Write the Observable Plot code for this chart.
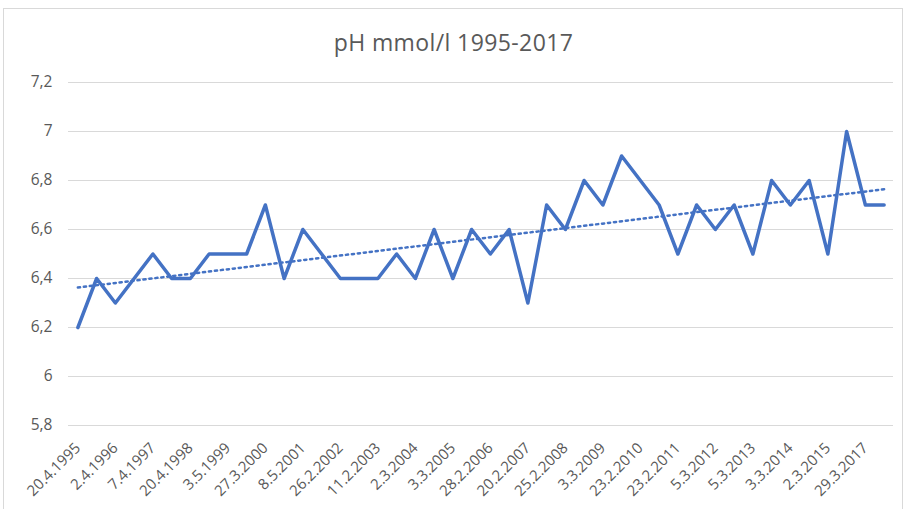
<!DOCTYPE html>
<html>
<head>
<meta charset="utf-8">
<script src="https://cdn.jsdelivr.net/npm/d3@7"></script>
<script src="https://cdn.jsdelivr.net/npm/@observablehq/plot@0.6"></script>
<style>
  html, body { margin: 0; padding: 0; background: #fff; }
  #wrap { position: relative; width: 907px; height: 509px; overflow: hidden; font-family: "Open Sans", sans-serif; }
  #frame { position: absolute; left: 3px; top: 8px; width: 900px; height: 520px; border: 1px solid #d9d9d9; box-sizing: border-box; }
  #title { position: absolute; left: 0; width: 907px; top: 31px; line-height: 23px; text-align: center; font-size: 23px; letter-spacing: 0.4px; color: #595959; font-family: "Open Sans", sans-serif; }
  #chart { position: absolute; left: 0; top: 0; }
</style>
</head>
<body>
<div id="wrap">
  <div id="frame"></div>
  <div id="chart"></div>
  <div id="title">pH mmol/l 1995-2017</div>
</div>
<script>
// Category labels (every other category is labelled on the axis)
const labels = ["20.4.1995","2.4.1996","7.4.1997","20.4.1998","3.5.1999","27.3.2000","8.5.2001","26.2.2002","11.2.2003","2.3.2004","3.3.2005","28.2.2006","20.2.2007","25.2.2008","3.3.2009","23.2.2010","23.2.2011","5.3.2012","5.3.2013","3.3.2014","2.3.2015","29.3.2017"];
// pH values, one per category (44 samples)
const values = [6.2,6.4,6.3,6.4,6.5,6.4,6.4,6.5,6.5,6.5,6.7,6.4,6.6,6.5,6.4,6.4,6.4,6.5,6.4,6.6,6.4,6.6,
                6.5,6.6,6.3,6.7,6.6,6.8,6.7,6.9,6.8,6.7,6.5,6.7,6.6,6.7,6.5,6.8,6.7,6.8,6.5,7.0,6.7,6.7];
const yTicks = [5.8,6.0,6.2,6.4,6.6,6.8,7.0,7.2];

const data = values.map((v, i) => ({i, v}));
const xTicks = labels.map((d, k) => 2 * k);
const fmtY = d => String(+d.toFixed(1)).replace(".", ",");

const plot = Plot.plot({
  width: 907,
  height: 509,
  marginLeft: 68,
  marginRight: 14,
  marginTop: 82,
  marginBottom: 84,
  style: {fontFamily: "Open Sans, sans-serif", background: "transparent", color: "#595959"},
  x: {domain: [-0.5, values.length - 0.5]},
  y: {domain: [5.8, 7.2]},
  marks: [
    Plot.gridY(yTicks, {stroke: "#d9d9d9", strokeOpacity: 1, strokeWidth: 1}),
    Plot.axisY(yTicks, {tickSize: 0, tickPadding: 16, tickFormat: fmtY, fontSize: 15.5, fill: "#595959", label: null}),
    Plot.axisX(xTicks, {tickSize: 0, tickPadding: 20, tickRotate: -45, tickFormat: i => labels[i / 2], fontSize: 15, fill: "#595959", label: null}),
    Plot.linearRegressionY(data, {x: "i", y: "v", stroke: "#4472C4", strokeWidth: 2.5, strokeDasharray: "2.2,3.8", ci: 0}),
    Plot.line(data, {x: "i", y: "v", stroke: "#4472C4", strokeWidth: 3.5, strokeLinejoin: "round", strokeLinecap: "round"})
  ]
});
document.getElementById("chart").appendChild(plot);
</script>
</body>
</html>
